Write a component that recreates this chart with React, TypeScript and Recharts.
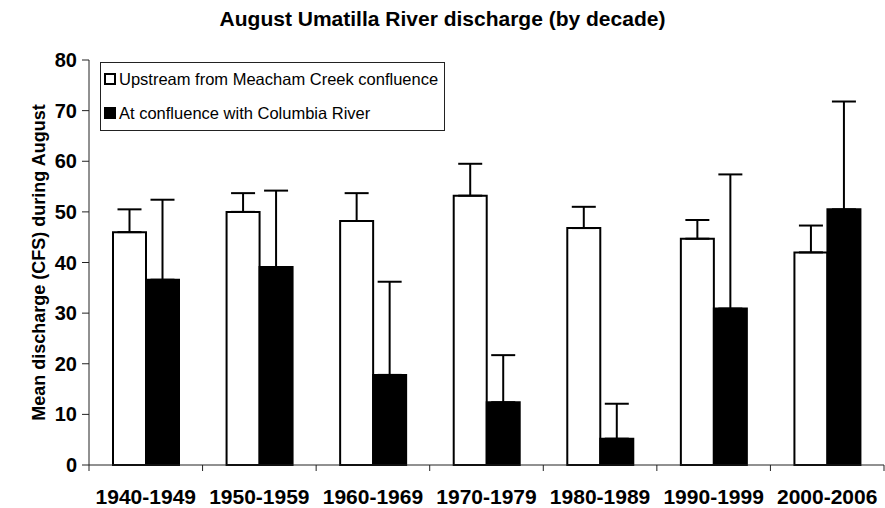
import React from 'react';
import { BarChart, Bar, XAxis, YAxis, ErrorBar } from 'recharts';

// decade categories and mean August discharge (CFS), error = upper whisker length
const decades = ['1940-1949', '1950-1959', '1960-1969', '1970-1979', '1980-1989', '1990-1999', '2000-2006'];
const upstreamMean = [46.0, 50.0, 48.2, 53.2, 46.8, 44.7, 42.0];
const upstreamErr = [4.5, 3.7, 5.5, 6.3, 4.2, 3.7, 5.3];
const confluenceMean = [36.6, 39.1, 17.8, 12.4, 5.2, 30.9, 50.5];
const confluenceErr = [15.8, 15.1, 18.4, 9.3, 6.9, 26.5, 21.3];
const yTicks = [0, 10, 20, 30, 40, 50, 60, 70, 80];

const seriesNames = {
  up: 'Upstream from Meacham Creek confluence',
  conf: 'At confluence with Columbia River',
};

const FONT = "Arial, 'Liberation Sans', sans-serif";

const data = decades.map((d, i) => ({
  decade: d,
  up: upstreamMean[i],
  upErr: [0, upstreamErr[i]],
  conf: confluenceMean[i],
  confErr: [0, confluenceErr[i]],
}));

// category tick: label at band center, tick mark at band boundaries (Excel style)
const DecadeTick = (props: any) => {
  const { x, y, payload, index, visibleTicksCount } = props;
  const half = payload.offset || 0;
  const axisY = y - 24;
  return (
    <g>
      <line x1={x - half} y1={axisY} x2={x - half} y2={axisY + 6} stroke="#222" strokeWidth={1} />
      {index === visibleTicksCount - 1 && (
        <line x1={x + half} y1={axisY} x2={x + half} y2={axisY + 6} stroke="#222" strokeWidth={1} />
      )}
      <text x={x} y={y} dy="0.71em" textAnchor="middle" fontFamily={FONT} fontWeight="bold" fontSize={21} fill="#000">
        {payload.value}
      </text>
    </g>
  );
};

const YLabel = (props: any) => {
  const vb = props.viewBox;
  const cy = vb.y + vb.height / 2;
  return (
    <text x={39} y={cy} transform={`rotate(-90, 39, ${cy})`} textAnchor="middle" dominantBaseline="central"
      fontFamily={FONT} fontWeight="bold" fontSize={18} fill="#000">
      Mean discharge (CFS) during August
    </text>
  );
};

const LegendBox = () => (
  <div style={{
    position: 'absolute', left: 100, top: 62, width: 345, height: 69,
    border: '1px solid #222', boxSizing: 'border-box', fontFamily: FONT, fontSize: 16.5,
    background: '#fff', whiteSpace: 'nowrap',
  }}>
    {[
      { name: seriesNames.up, fill: '#fff' },
      { name: seriesNames.conf, fill: '#000' },
    ].map((s, i) => (
      <div key={i} style={{ position: 'absolute', left: 3, top: 6 + i * 34, display: 'flex', alignItems: 'center', height: 20 }}>
        <span style={{
          display: 'inline-block', width: 12, height: 12, boxSizing: 'border-box',
          border: '2px solid #000', background: s.fill, marginRight: 3,
        }} />
        <span>{s.name}</span>
      </div>
    ))}
  </div>
);

export default function App() {
  return (
    <div style={{ position: 'absolute', left: 0, top: 0, width: 885, height: 508, background: '#fff' }}>
      <div style={{
        position: 'absolute', top: 7, left: 0, width: 885, textAlign: 'center',
        fontFamily: FONT, fontWeight: 'bold', fontSize: 21, lineHeight: '24px',
      }}>
        August Umatilla River discharge (by decade)
      </div>
      <BarChart width={885} height={508} data={data} barSize={33} barGap={0}
        margin={{ top: 60, right: 1, bottom: 0, left: 39 }}>
        <XAxis dataKey="decade" height={43} tickLine={false} tickSize={0} tickMargin={24}
          axisLine={{ stroke: '#222' }} interval={0} tick={<DecadeTick />} />
        <YAxis width={50} domain={[0, 80]} ticks={yTicks} interval={0} tickSize={7} tickMargin={5}
          axisLine={{ stroke: '#222' }} tickLine={{ stroke: '#222' }}
          tick={{ fontFamily: FONT, fontWeight: 'bold', fontSize: 20, fill: '#000' }}
          label={<YLabel />} />
        <Bar dataKey="up" name={seriesNames.up} fill="#fff" stroke="#000" strokeWidth={2} isAnimationActive={false}>
          <ErrorBar dataKey="upErr" direction="y" width={12} stroke="#000" strokeWidth={2} />
        </Bar>
        <Bar dataKey="conf" name={seriesNames.conf} fill="#000" stroke="#000" strokeWidth={2} isAnimationActive={false}>
          <ErrorBar dataKey="confErr" direction="y" width={12} stroke="#000" strokeWidth={2} />
        </Bar>
      </BarChart>
      <LegendBox />
    </div>
  );
}
